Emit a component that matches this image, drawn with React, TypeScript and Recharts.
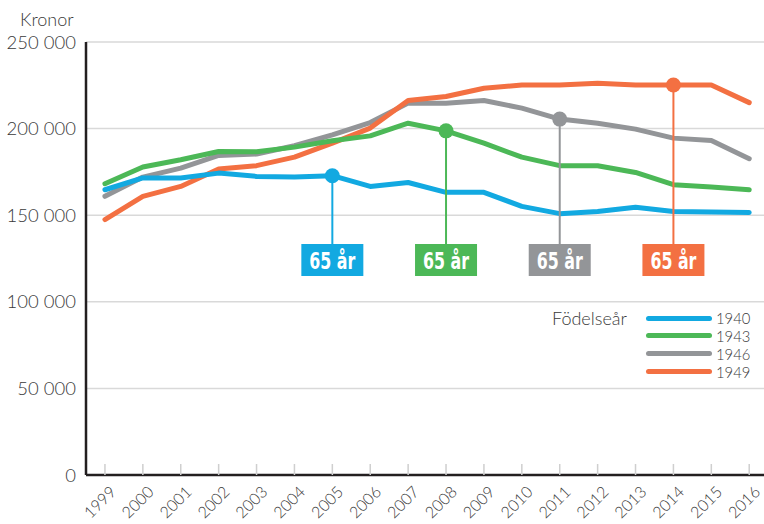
import { LineChart, Line, XAxis, YAxis, CartesianGrid } from 'recharts';

const years = [1999, 2000, 2001, 2002, 2003, 2004, 2005, 2006, 2007, 2008, 2009, 2010, 2011, 2012, 2013, 2014, 2015, 2016];

const s1940 = [164700, 171500, 171500, 174300, 172400, 172000, 172800, 166600, 168900, 163200, 163200, 155100, 150900, 152200, 154600, 152200, 151900, 151600];
const s1943 = [168200, 177800, 182000, 186800, 186600, 189300, 193000, 195800, 203100, 198700, 191600, 183500, 178600, 178600, 174700, 167600, 166300, 164700];
const s1946 = [160900, 172000, 177200, 184500, 185300, 190100, 196400, 203500, 214700, 214700, 216200, 211800, 205500, 203100, 199700, 194500, 193100, 182600];
const s1949 = [147500, 160900, 166600, 176700, 178600, 183500, 191600, 200300, 216200, 218500, 223300, 225200, 225200, 226200, 225200, 225200, 225200, 215000];

const yTicks = [0, 50000, 100000, 150000, 200000, 250000];

// year the cohort turns 65
const series = [
  { key: 'b1940', name: '1940', values: s1940, color: '#12a9e1', at65: 2005 },
  { key: 'b1943', name: '1943', values: s1943, color: '#4cb857', at65: 2008 },
  { key: 'b1946', name: '1946', values: s1946, color: '#939598', at65: 2011 },
  { key: 'b1949', name: '1949', values: s1949, color: '#f37042', at65: 2014 },
];

// drawing order (bottom to top)
const drawOrder = ['b1946', 'b1949', 'b1943', 'b1940'];

const data = years.map((year, i) => {
  const row: Record<string, number> = { year };
  for (const s of series) row[s.key] = s.values[i];
  return row;
});

const font = "Lato, 'Open Sans', sans-serif";
const labelFont = "'DejaVu Sans Condensed', 'Liberation Sans', sans-serif";
const BOX_TOP = 244;
const TXT = '#3a3a3a';
const ROW = 18;

const fmt = (v: number) => String(v).replace(/\B(?=(\d{3})+(?!\d))/g, ' ');

const XTick = (props: any) => {
  const { x, y, payload } = props;
  const tx = x + 12;
  const ty = y + 18;
  return (
    <g>
      <line x1={x} x2={x} y1={y - 11} y2={y} stroke="#cfcfcf" strokeWidth={1.5} />
      <text x={tx} y={ty} transform={`rotate(-45 ${tx} ${ty})`} textAnchor="end"
        fontSize={16} fontWeight={300} fill={TXT} fontFamily={font}>{payload.value}</text>
    </g>
  );
};

const makeDot = (s: typeof series[number]) => (props: any) => {
  const { cx, cy, payload, index } = props;
  if (payload.year !== s.at65) return <g key={`d-${s.key}-${index}`} />;
  return (
    <g key={`d-${s.key}-${index}`}>
      <line x1={cx} x2={cx} y1={cy} y2={BOX_TOP} stroke={s.color} strokeWidth={2} />
      <circle cx={cx} cy={cy} r={7.5} fill={s.color} />
      <rect x={cx - 31} y={BOX_TOP} width={62} height={32} fill={s.color} />
      <text x={cx} y={BOX_TOP + 25} textAnchor="middle" fill="#fff" fontWeight="bold"
        fontSize={23} fontFamily={labelFont} textLength={46} lengthAdjust="spacingAndGlyphs">65 år</text>
    </g>
  );
};

export default function App() {
  return (
    <div style={{ position: 'absolute', left: 0, top: 0, width: 764, height: 524, background: '#fff', fontFamily: font, fontWeight: 300, color: TXT }}>
      <LineChart width={764} height={524} data={data} margin={{ top: 42, right: 0, bottom: 0, left: 0 }}>
        <CartesianGrid vertical={false} stroke="#d9d9d9" strokeWidth={1.5} />
        <XAxis
          dataKey="year"
          type="number"
          domain={[1998.5, 2016.39]}
          ticks={years}
          allowDataOverflow
          height={49}
          tickSize={0}
          tickMargin={0}
          tickLine={false}
          axisLine={{ stroke: '#231f20', strokeWidth: 2.5 }}
          tick={<XTick />}
          interval={0}
        />
        <YAxis
          domain={[0, 250000]}
          ticks={yTicks}
          width={86}
          tickLine={false}
          tickSize={0}
          tickMargin={10}
          axisLine={{ stroke: '#231f20', strokeWidth: 2.5 }}
          tickFormatter={fmt}
          tick={{ fontSize: 18.5, fill: TXT, fontFamily: font, fontWeight: 300 }}
        />
        {drawOrder.map(k => {
          const s = series.find(x => x.key === k)!;
          return (
            <Line
              key={s.key}
              dataKey={s.key}
              name={s.name}
              type="linear"
              stroke={s.color}
              strokeWidth={5}
              strokeLinecap="round"
              strokeLinejoin="round"
              dot={makeDot(s)}
              activeDot={false}
              isAnimationActive={false}
            />
          );
        })}
      </LineChart>

      <div style={{ position: 'absolute', left: 20, top: 9, fontSize: 18, lineHeight: '20px' }}>Kronor</div>

      <div style={{ position: 'absolute', left: 552, top: 309, fontSize: 18, lineHeight: '18px' }}>Födelseår</div>
      {series.map((s, i) => (
        <div key={s.key}>
          <div style={{
            position: 'absolute', left: 646, top: 318 + i * 17.8 - 2.5, width: 66, height: 5,
            borderRadius: 3, background: s.color,
          }} />
          <div style={{
            position: 'absolute', left: 716, top: 309 + i * ROW, height: ROW,
            fontSize: 14.8, lineHeight: `${ROW}px`,
          }}>{s.name}</div>
        </div>
      ))}
    </div>
  );
}
